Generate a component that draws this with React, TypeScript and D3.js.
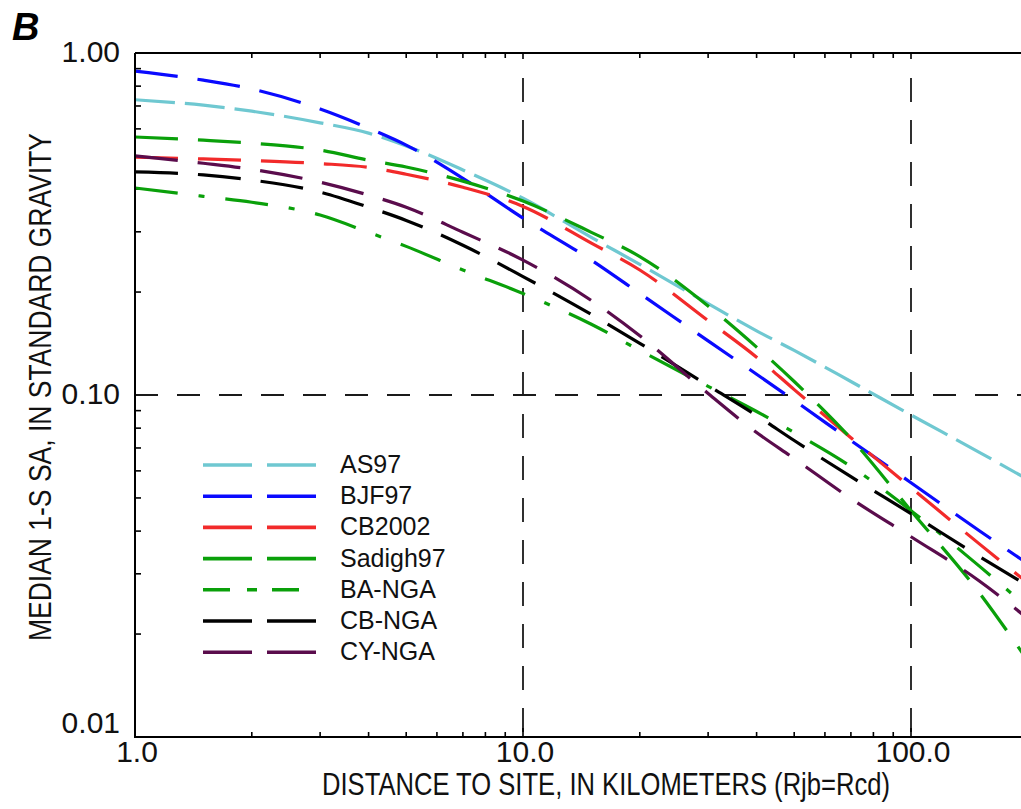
import { useEffect, useRef } from "react";
import * as d3 from "d3";

// distance (km) and median 1-s SA (g)
const distances = [1, 1.5, 2, 3, 4, 5, 7, 10, 15, 20, 30, 40, 50, 70, 100, 150, 200];
const as97 = [0.73, 0.704, 0.676, 0.625, 0.583, 0.535, 0.455, 0.376, 0.289, 0.241, 0.185, 0.154, 0.135, 0.1095, 0.0874, 0.068, 0.0566];
const bjf97 = [0.885, 0.833, 0.785, 0.686, 0.603, 0.538, 0.43, 0.329, 0.248, 0.198, 0.144, 0.115, 0.0964, 0.0736, 0.0554, 0.0401, 0.0321];
const cb2002 = [0.496, 0.49, 0.485, 0.475, 0.463, 0.442, 0.405, 0.356, 0.278, 0.232, 0.165, 0.129, 0.1037, 0.075, 0.0536, 0.0367, 0.0282];
const sadigh97 = [0.568, 0.556, 0.545, 0.52, 0.486, 0.464, 0.422, 0.369, 0.299, 0.254, 0.182, 0.138, 0.1095, 0.0746, 0.0459, 0.0264, 0.0167];
const baNga = [0.403, 0.381, 0.366, 0.336, 0.299, 0.272, 0.232, 0.198, 0.161, 0.135, 0.106, 0.0895, 0.0777, 0.0618, 0.0459, 0.0316, 0.0239];
const cbNga = [0.449, 0.44, 0.425, 0.392, 0.354, 0.324, 0.274, 0.222, 0.172, 0.1416, 0.1066, 0.0871, 0.0736, 0.0577, 0.045, 0.0337, 0.0277];
const cyNga = [0.5, 0.476, 0.457, 0.419, 0.384, 0.354, 0.299, 0.248, 0.189, 0.149, 0.101, 0.0777, 0.0652, 0.0498, 0.0385, 0.0286, 0.0222];

const modelNames = ["AS97", "BJF97", "CB2002", "Sadigh97", "BA-NGA", "CB-NGA", "CY-NGA"];
const modelValues = [as97, bjf97, cb2002, sadigh97, baNga, cbNga, cyNga];
const modelColors = ["#6fc8d1", "#0a0aff", "#f22a2a", "#0aa00a", "#0aa00a", "#000000", "#5a0c4c"];

const xTicks = [1, 10, 100];
const xTickLabels = ["1.0", "10.0", "100.0"];
const yTicks = [1, 0.1, 0.01];
const yTickLabels = ["1.00", "0.10", "0.01"];

const W = 1021;
const H = 809;
const FONT = "'Liberation Sans Narrow', 'Liberation Sans', Arial, sans-serif";

export default function App() {
  const ref = useRef<SVGSVGElement | null>(null);

  useEffect(() => {
    const svg = d3.select(ref.current);
    svg.selectAll("*").remove();

    const left = 135, top = 53, bottom = 737;
    const x = d3.scaleLog().domain([1, 200]).range([left, left + 388 * Math.log10(200)]);
    const y = d3.scaleLog().domain([0.01, 1]).range([bottom, top]);

    svg.append("defs").append("clipPath").attr("id", "plot")
      .append("rect").attr("x", left).attr("y", top)
      .attr("width", W - left).attr("height", bottom - top);

    // dashed grid lines
    const grid = svg.append("g").attr("stroke", "#1a1a1a").attr("stroke-width", 1.8);
    [10, 100].forEach((d) => {
      grid.append("line").attr("x1", x(d)).attr("x2", x(d)).attr("y1", top + 25).attr("y2", bottom)
        .attr("stroke-dasharray", "24 18");
    });
    grid.append("line").attr("x1", left).attr("x2", W).attr("y1", y(0.1)).attr("y2", y(0.1))
      .attr("stroke-dasharray", "23 19");

    // minor ticks
    const minorX: number[] = [];
    [1, 10, 100].forEach((p) => { for (let k = 2; k <= 9; k++) if (k * p <= 200) minorX.push(k * p); });
    const minorY: number[] = [];
    [0.01, 0.1].forEach((p) => { for (let k = 2; k <= 9; k++) minorY.push(k * p); });

    const ticks = svg.append("g").attr("stroke", "#000").attr("stroke-width", 1.6);
    minorX.forEach((d) => {
      ticks.append("line").attr("x1", x(d)).attr("x2", x(d)).attr("y1", bottom).attr("y2", bottom - 5);
      ticks.append("line").attr("x1", x(d)).attr("x2", x(d)).attr("y1", top).attr("y2", top + 5);
    });
    [10, 100].forEach((d) => {
      ticks.append("line").attr("x1", x(d)).attr("x2", x(d)).attr("y1", bottom).attr("y2", bottom - 9);
      ticks.append("line").attr("x1", x(d)).attr("x2", x(d)).attr("y1", top).attr("y2", top + 6);
    });
    minorY.forEach((d) => {
      ticks.append("line").attr("x1", left).attr("x2", left + 6).attr("y1", y(d)).attr("y2", y(d));
    });

    // curves
    const line = d3.line<number>()
      .x((_, i) => x(distances[i]))
      .y((v) => y(v))
      .curve(d3.curveMonotoneX);

    const curves = svg.append("g").attr("clip-path", "url(#plot)");
    modelNames.forEach((name, i) => {
      const dash = name === "AS97" ? "40 10" : name === "BA-NGA" ? "43 21 6 21" : "43 20";
      curves.append("path")
        .attr("d", line(modelValues[i]) as string)
        .attr("fill", "none")
        .attr("stroke", modelColors[i])
        .attr("stroke-width", 3.2)
        .attr("stroke-dasharray", dash);
    });

    // axes frame (left, top, bottom)
    const frame = svg.append("g").attr("stroke", "#000").attr("stroke-width", 2).attr("fill", "none");
    frame.append("line").attr("x1", left).attr("x2", left).attr("y1", top).attr("y2", bottom + 1);
    frame.append("line").attr("x1", left).attr("x2", W).attr("y1", top).attr("y2", top);
    frame.append("line").attr("x1", left).attr("x2", W).attr("y1", bottom).attr("y2", bottom);

    // tick labels
    const labels = svg.append("g").attr("font-family", FONT).attr("font-size", 30).attr("fill", "#111");
    yTicks.forEach((d, i) => {
      labels.append("text").attr("x", 120).attr("y", y(d) + (d === 0.01 ? -4 : 9))
        .attr("text-anchor", "end").text(yTickLabels[i]);
    });
    xTicks.forEach((d, i) => {
      labels.append("text").attr("x", x(d) + 2).attr("y", 762)
        .attr("text-anchor", "middle").text(xTickLabels[i]);
    });

    // axis titles
    svg.append("text").attr("font-family", FONT).attr("font-size", 31).attr("fill", "#111")
      .attr("x", 322).attr("y", 795).attr("textLength", 568).attr("lengthAdjust", "spacingAndGlyphs")
      .text("DISTANCE TO SITE, IN KILOMETERS (Rjb=Rcd)");
    svg.append("text").attr("font-family", FONT).attr("font-size", 32).attr("fill", "#111")
      .attr("transform", "translate(51,387) rotate(-90)").attr("text-anchor", "middle")
      .attr("textLength", 508).attr("lengthAdjust", "spacingAndGlyphs")
      .text("MEDIAN 1-S SA, IN STANDARD GRAVITY");

    svg.append("text").attr("font-family", FONT).attr("font-size", 38)
      .attr("font-weight", "bold").attr("font-style", "italic")
      .attr("x", 12).attr("y", 40).text("B");

    // legend
    const legend = svg.append("g");
    modelNames.forEach((name, i) => {
      const ly = 465 + i * 31.2;
      legend.append("line").attr("x1", 203).attr("x2", 316).attr("y1", ly).attr("y2", ly)
        .attr("stroke", modelColors[i]).attr("stroke-width", 3.6)
        .attr("stroke-dasharray", name === "BA-NGA" ? "27 17 10 15" : "49 15");
      legend.append("text").attr("x", 340).attr("y", ly + 8)
        .attr("font-family", FONT).attr("font-size", 25).attr("fill", "#111").text(name);
    });
  }, []);

  return (
    <svg ref={ref} width={W} height={H}
      style={{ position: "absolute", left: 0, top: 0, background: "#fff" }} />
  );
}
